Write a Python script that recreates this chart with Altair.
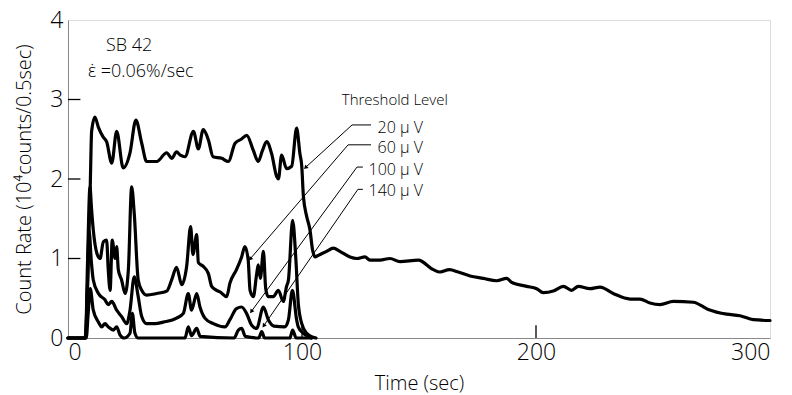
import altair as alt
import pandas as pd

# ---- data ----
t20 = [0, 7.3, 8.5, 9.5, 10.1, 11.5, 13, 15, 16.5, 18.7, 20.8, 23.6, 26.5, 29, 31.5, 33.6,
       37.9, 42.2, 44.3, 46.4, 48, 50, 53.6, 55.7, 57.8, 60, 62, 65.7, 68.5, 71.4, 74,
       76.4, 79.2, 81.3, 83, 84.9, 87, 89.2, 89.9, 91.3, 93.4, 95.6, 97.7, 99.1, 99.9,
       100.6, 102, 103.4, 104.5, 105.6, 107, 110.5, 113.4, 116.2, 120.5, 123.4, 126.9,
       129, 133.3, 137.6, 141.9, 149.7, 156.1, 159, 163, 166.8, 171.8, 177.5, 183.2,
       187.5, 189.6, 196, 200.3, 203.1, 207.4, 211.7, 215.2, 218.1, 223, 227.4, 233,
       240.2, 244.4, 248.7, 253, 258.7, 267.2, 273.6, 281.5, 287.2, 292.9, 300]
v20 = [0, 0, 0.8, 1.9, 2.6, 2.78, 2.65, 2.53, 2.47, 2.2, 2.6, 2.14, 2.33, 2.74, 2.45, 2.22,
       2.22, 2.33, 2.26, 2.34, 2.3, 2.28, 2.6, 2.38, 2.62, 2.49, 2.28, 2.26, 2.22, 2.45, 2.5,
       2.55, 2.36, 2.22, 2.35, 2.47, 2.32, 2.03, 2.0, 2.3, 2.13, 2.16, 2.64, 2.32, 2.16,
       1.78, 1.53, 1.36, 1.11, 1.02, 1.04, 1.09, 1.13, 1.09, 1.02, 1.0, 1.02,
       0.98, 0.98, 1.0, 0.96, 0.98, 0.86, 0.83, 0.86, 0.83, 0.78, 0.75, 0.72,
       0.75, 0.70, 0.65, 0.62, 0.57, 0.59, 0.65, 0.60, 0.65, 0.62, 0.64, 0.56,
       0.49, 0.49, 0.44, 0.42, 0.46, 0.45, 0.36, 0.30, 0.28, 0.23, 0.22]

t60 = [0, 7.5, 8.3, 9.4, 10, 10.8, 12.3, 13.7, 15.1, 16.5, 17.2, 18, 18.9, 20.1, 20.8, 21.5,
       22.9, 24.4, 25.8, 27.2, 28.3, 30, 31.5, 33.6, 37.9, 42.2, 44.3, 46.4, 48.6, 50.7,
       52.4, 53.4, 55, 55.7, 57.8, 60, 61.4, 63.5, 65, 67.8, 69.2, 72, 74.2, 75.6, 77,
       77.8, 79.2, 80.6, 81.3, 82.2, 83.5, 84.5, 85.6, 87.7, 89.9, 92, 93.4, 94.2, 96,
       97.4, 98.4, 99.9, 102, 104.8, 106]
v60 = [0, 0, 0.9, 1.9, 1.65, 1.36, 1.07, 1.0, 1.21, 1.23, 0.86, 0.6, 1.23, 1.0, 1.15, 0.86,
       0.73, 0.56, 0.86, 1.9, 1.57, 0.73, 0.6, 0.54, 0.56, 0.59, 0.73, 0.89, 0.67, 0.9,
       1.4, 1.05, 1.3, 0.95, 0.9, 0.81, 0.65, 0.6, 0.58, 0.52, 0.69, 0.86, 1.02, 1.15, 0.98,
       0.6, 0.52, 0.8, 0.92, 0.75, 1.09, 0.62, 0.52, 0.52, 0.6, 0.46, 0.65, 0.73, 1.48,
       0.98, 0.44, 0.18, 0.06, 0.01, 0]

t100 = [0, 7.5, 8.3, 9, 10, 10.8, 13, 15.8, 17.2, 18.7, 20.8, 22.9, 25.1, 26.5, 28.3, 30,
        31.5, 33.6, 37.2, 40.7, 46.4, 49.3, 51.4, 52.8, 55, 56.4, 58.5, 62.1, 67.1, 69.2,
        72, 74.2, 76.3, 78.5, 80.6, 83.5, 85.6, 88, 92.7, 94.2, 95.9, 97.7, 98.4, 100.6,
        102.7, 104]
v100 = [0, 0, 0.6, 1.35, 0.95, 0.73, 0.56, 0.48, 0.42, 0.46, 0.35, 0.27, 0.18, 0.35, 0.77,
        0.52, 0.27, 0.18, 0.18, 0.2, 0.25, 0.31, 0.56, 0.35, 0.56, 0.39, 0.25, 0.18, 0.14,
        0.23, 0.37, 0.39, 0.31, 0.16, 0.12, 0.39, 0.23, 0.15, 0.14, 0.23, 0.6, 0.23, 0.14,
        0.06, 0.02, 0]

t140 = [0, 7.8, 8.6, 9.5, 10.8, 13, 14.4, 15.8, 17.2, 19.4, 20.8, 22.2, 24, 26.5, 27.5, 28.6,
        30, 50, 51.4, 52.8, 55, 56.5, 71, 72.8, 74.2, 75.8, 81.5, 82.8, 84, 94.8, 96, 97.5, 104]
v140 = [0, 0, 0.3, 0.62, 0.35, 0.2, 0.14, 0.18, 0.14, 0.1, 0.14, 0.04, 0, 0.06, 0.31, 0.06,
        0, 0, 0.14, 0.03, 0.12, 0.02, 0, 0.1, 0.12, 0.02, 0, 0.08, 0, 0, 0.1, 0, 0]

series_names = ["20 \u03bc V", "60 \u03bc V", "100 \u03bc V", "140 \u03bc V"]

# leader-line annotation (label anchor, elbow, target on curve) in data units
lab_y = [2.64, 2.39, 2.11, 1.85]
elbow_x = [121.4, 119.7, 123.5, 123.9]
elbow_y = [2.68, 2.43, 2.15, 1.87]
stub_x = [129.5, 129.5, 126.0, 126.0]
target_x = [101.7, 78.0, 78.5, 83.8]
target_y = [2.15, 1.0, 0.34, 0.16]

# ---- build tables ----
rows = []
for name, xs, ys in zip(series_names, [t20, t60, t100, t140], [v20, v60, v100, v140]):
    for a, b in zip(xs, ys):
        rows.append({"series": name, "t": a, "v": b})
df = pd.DataFrame(rows)

segs = []
for i in range(4):
    segs.append({"x": elbow_x[i], "y": elbow_y[i], "x2": stub_x[i], "y2": elbow_y[i]})
    segs.append({"x": elbow_x[i], "y": elbow_y[i], "x2": target_x[i], "y2": target_y[i]})
seg_df = pd.DataFrame(segs)

arrow_df = pd.DataFrame({"x": target_x, "y": target_y, "ang": [228, 220, 216, 215]})

lab_df = pd.DataFrame({"x": [151.7] * 4, "y": lab_y, "text": series_names})

ytick_df = pd.DataFrame({"x": [0, 0, 0], "x2": [5.3, 5.3, 5.3], "y": [1, 2, 3]})
xtick_df = pd.DataFrame({"x": [100, 200], "y": [0, 0], "y2": [0.16, 0.16]})

FONT = "Open Sans"

xsc = alt.Scale(domain=[0, 300], nice=False, zero=False)
ysc = alt.Scale(domain=[0, 4], nice=False)

lines = alt.Chart(df).mark_line(
    color="black", strokeWidth=3.2, interpolate="monotone", strokeJoin="round", strokeCap="round"
).encode(
    x=alt.X("t:Q", scale=xsc, axis=alt.Axis(
        values=[0, 100, 200, 300], format="d", title="Time (sec)", ticks=False, grid=False,
        labelFontSize=23, labelPadding=3, titleFontSize=20, titlePadding=9,
        labelFont=FONT, titleFont=FONT, labelFontWeight=300, titleFontWeight=300)),
    y=alt.Y("v:Q", scale=ysc, axis=alt.Axis(
        values=[0, 1, 2, 3, 4], format="d", title="Count Rate (10\u2074counts/0.5sec)",
        ticks=False, grid=False, labelFontSize=23, labelPadding=5, titleFontSize=20,
        titlePadding=15, labelFont=FONT, titleFont=FONT, labelFontWeight=300,
        titleFontWeight=300)),
    detail="series:N",
)

yticks = alt.Chart(ytick_df).mark_rule(color="black", strokeWidth=1.3).encode(
    x="x:Q", x2="x2:Q", y="y:Q")
xticks = alt.Chart(xtick_df).mark_rule(color="black", strokeWidth=1.3).encode(
    x="x:Q", y="y:Q", y2="y2:Q")

leaders = alt.Chart(seg_df).mark_rule(color="black", strokeWidth=1).encode(
    x="x:Q", y="y:Q", x2="x2:Q", y2="y2:Q")

arrows = alt.Chart(arrow_df).mark_point(
    shape="triangle", filled=True, color="black", size=22, opacity=1
).encode(x="x:Q", y="y:Q", angle=alt.Angle("ang:Q", scale=None))

labels = alt.Chart(lab_df).mark_text(
    align="right", baseline="middle", fontSize=16, font=FONT, fontWeight=300, color="black"
).encode(x="x:Q", y="y:Q", text="text:N")

info_df = pd.DataFrame({"x": [16.2, 8.5], "y": [3.67, 3.35],
                        "text": ["SB  42", "\u03b5\u0307 =0.06%/sec"]})
info = alt.Chart(info_df).mark_text(
    align="left", baseline="middle", fontSize=18, font=FONT, fontWeight=300, color="black"
).encode(x="x:Q", y="y:Q", text="text:N")

thr_df = pd.DataFrame({"x": [117.0], "y": [2.99], "text": ["Threshold  Level"]})
thr = alt.Chart(thr_df).mark_text(
    align="left", baseline="middle", fontSize=15, font=FONT, fontWeight=300, color="black"
).encode(x="x:Q", y="y:Q", text="text:N")

chart = alt.layer(lines, yticks, xticks, leaders, arrows, labels, info, thr).properties(
    width=702, height=318,
    autosize=alt.AutoSizeParams(type="none"),
    padding={"left": 68, "top": 20, "right": 22, "bottom": 57},
).configure_view(
    stroke="black", strokeWidth=1.5
).configure_axis(
    domainColor="black", domainWidth=2, labelColor="black", titleColor="black"
).configure(background="white")

chart.save("out.html", embed_options={"renderer": "svg", "actions": False})
